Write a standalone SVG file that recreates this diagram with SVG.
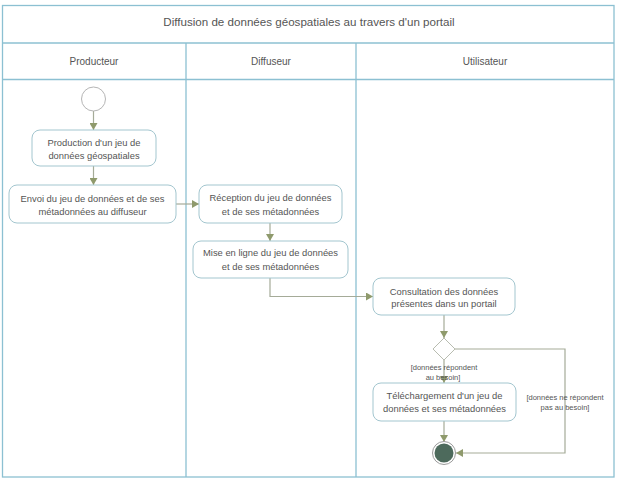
<svg xmlns="http://www.w3.org/2000/svg" width="619" height="480" viewBox="0 0 619 480">
<style>
.frame{fill:none;stroke:#8cc0d2;stroke-width:1.3}
.box{fill:#fff;stroke:#a3c6cf;stroke-width:1}
.t{font-family:"Liberation Sans",Arial,sans-serif;fill:#555;text-anchor:middle}
.bt{font-size:9.4px}
.hd{font-size:10px}
.gd{font-size:7.5px}
.cn{fill:none;stroke:#a5ab98;stroke-width:1.2}
</style>
<defs>
<marker id="ah" markerWidth="8" markerHeight="8" refX="7" refY="4" orient="auto" markerUnits="userSpaceOnUse">
<path d="M0,0 L7,4 L0,8 Z" fill="#8f9a6c"/>
</marker>
</defs>
<rect x="0" y="0" width="619" height="480" fill="#fff"/>
<g id="frame">
<rect class="frame" x="2.5" y="5.5" width="611.5" height="471.5"/>
<line class="frame" x1="2.5" y1="43" x2="614" y2="43"/>
<line class="frame" x1="2.5" y1="79.5" x2="614" y2="79.5"/>
<line class="frame" x1="186" y1="43" x2="186" y2="477"/>
<line class="frame" x1="356" y1="43" x2="356" y2="477"/>
<text class="t" x="309" y="26" font-size="11.6px">Diffusion de données géospatiales au travers d'un portail</text>
<text class="t hd" x="94" y="65">Producteur</text>
<text class="t hd" x="271" y="65">Diffuseur</text>
<text class="t hd" x="485" y="65">Utilisateur</text>
</g>
<g id="connectors">
<line class="cn" x1="93.5" y1="111" x2="93.5" y2="130" marker-end="url(#ah)"/>
<line class="cn" x1="93.5" y1="166" x2="93.5" y2="185" marker-end="url(#ah)"/>
<line class="cn" x1="176" y1="204" x2="199" y2="204" marker-end="url(#ah)"/>
<line class="cn" x1="270" y1="223" x2="270" y2="241" marker-end="url(#ah)"/>
<polyline class="cn" points="270,278 270,296.5 373,296.5" marker-end="url(#ah)"/>
<line class="cn" x1="444" y1="315" x2="444" y2="338" marker-end="url(#ah)"/>
<line class="cn" x1="444" y1="360" x2="444" y2="383" marker-end="url(#ah)"/>
<polyline class="cn" points="455,349 565,349 565,453 456,453" marker-end="url(#ah)"/>
<line class="cn" x1="444" y1="421" x2="444" y2="442" marker-end="url(#ah)"/>
<text class="t gd" x="444" y="370">[données répondent</text>
<text class="t gd" x="443" y="380">au besoin]</text>
<text class="t gd" x="565" y="400">[données ne répondent</text>
<text class="t gd" x="565" y="410">pas au besoin]</text>
</g>
<g id="start">
<circle cx="93.5" cy="99" r="12" fill="#fff" stroke="#b5b5b5" stroke-width="1"/>
</g>
<g id="production">
<rect class="box" x="32" y="130" width="124" height="36" rx="8"/>
<text class="t bt" x="94" y="146">Production d'un jeu de</text>
<text class="t bt" x="94" y="159">données géospatiales</text>
</g>
<g id="envoi">
<rect class="box" x="9" y="185" width="167" height="38" rx="8"/>
<text class="t bt" x="92.5" y="202">Envoi du jeu de données et de ses</text>
<text class="t bt" x="92.5" y="215">métadonnées au diffuseur</text>
</g>
<g id="reception">
<rect class="box" x="199" y="185" width="143" height="38" rx="8"/>
<text class="t bt" x="270.5" y="201">Réception du jeu de données</text>
<text class="t bt" x="270.5" y="215">et de ses métadonnées</text>
</g>
<g id="miseenligne">
<rect class="box" x="193" y="241" width="155" height="37" rx="8"/>
<text class="t bt" x="270.5" y="256">Mise en ligne du jeu de données</text>
<text class="t bt" x="270.5" y="270">et de ses métadonnées</text>
</g>
<g id="consultation">
<rect class="box" x="373" y="278" width="142" height="37" rx="8"/>
<text class="t bt" x="444" y="295">Consultation des données</text>
<text class="t bt" x="444" y="307">présentes dans un portail</text>
</g>
<g id="decision">
<polygon points="444,338 455,349 444,360 433,349" fill="#fff" stroke="#b8bcb0" stroke-width="1"/>
</g>
<g id="telechargement">
<rect class="box" x="373" y="383" width="143" height="38" rx="8"/>
<text class="t bt" x="444.5" y="399">Téléchargement d'un jeu de</text>
<text class="t bt" x="444.5" y="412">données et ses métadonnées</text>
</g>
<g id="end">
<circle cx="444" cy="453" r="11.5" fill="#fff" stroke="#9a9a9a" stroke-width="1"/>
<circle cx="444" cy="453" r="9.5" fill="#4d6a5c"/>
</g>
</svg>
